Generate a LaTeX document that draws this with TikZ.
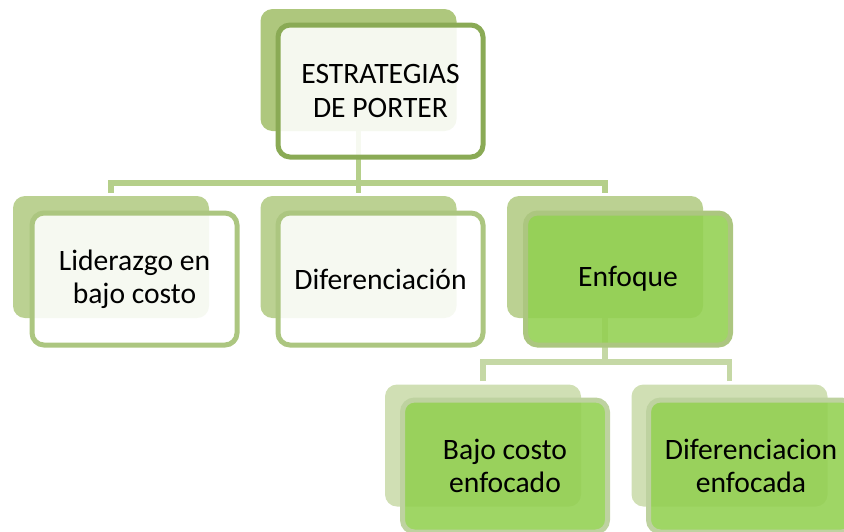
\documentclass[tikz,border=0pt]{standalone}
\usepackage{fontspec}
\setmainfont{Carlito}
\definecolor{topback}{RGB}{174,199,125}
\definecolor{topborder}{RGB}{138,170,85}
\definecolor{lonback}{RGB}{187,209,146}
\definecolor{lonborder}{RGB}{172,198,128}
\definecolor{greenfill}{RGB}{146,208,80}
\definecolor{ltwoback}{RGB}{208,223,180}
\definecolor{ltwoborder}{RGB}{190,210,160}
\definecolor{lineone}{RGB}{181,207,138}
\definecolor{linetwo}{RGB}{197,216,165}
\begin{document}
\begin{tikzpicture}[x=0.5pt, y=-0.5pt,
      every node/.style={rounded corners=6pt, align=center, inner sep=0pt,
                         font=\fontsize{14.8}{16.6}\selectfont},
      back/.style={minimum width=98pt, minimum height=61pt},
      front/.style={minimum width=102.5pt, minimum height=66pt, line width=2.5pt,
                    fill opacity=0.88, text opacity=1},
      link/.style={line width=2.8pt, shorten <=1.5pt}
    ]
    \useasboundingbox (0,0) rectangle (844,531);
    \clip (0,0) rectangle (844,531);

    % back cards
    \node[back, fill=topback] (topB) at (358.5,70) {};
    \node[back, fill=lonback] (liderB) at (111,257) {};
    \node[back, fill=lonback] (diferB) at (358.5,257) {};
    \node[back, fill=lonback] (enfoqB) at (605,257) {};
    \node[back, fill=ltwoback] (bajoB) at (483,445.5) {};
    \node[back, fill=ltwoback] (difenB) at (729.5,445.5) {};

    % connectors
    \coordinate (busA) at (358.5,183);
    \coordinate (busB) at (605,362);
    \draw[lineone, line width=2.8pt] (topB.south) -- (busA);
    \draw[link, lineone] (liderB.north) |- (busA);
    \draw[link, lineone] (diferB.north) -- (busA);
    \draw[link, lineone] (enfoqB.north) |- (busA);
    \draw[linetwo, line width=2.8pt] (enfoqB.south) -- (busB);
    \draw[link, linetwo] (bajoB.north) |- (busB);
    \draw[link, linetwo] (difenB.north) |- (busB);

    % front cards
    \node[front, draw=topborder, fill=white] (top) at (380.5,91) {ESTRATEGIAS\\DE PORTER};
    \node[front, draw=lonborder, fill=white] (lider) at (134.5,279) {Liderazgo en\\bajo costo};
    \node[front, draw=lonborder, fill=white] (difer) at (380.5,279) {Diferenciación};
    \node[front, draw=lonborder, fill=greenfill] (enfoq) at (628,279) {Enfoque};
    \node[front, draw=ltwoborder, fill=greenfill] (bajo) at (505,466) {Bajo costo\\enfocado};
    \node[front, draw=ltwoborder, fill=greenfill] (difen) at (751,466) {Diferenciacion\\enfocada};

\end{tikzpicture}
\end{document}
